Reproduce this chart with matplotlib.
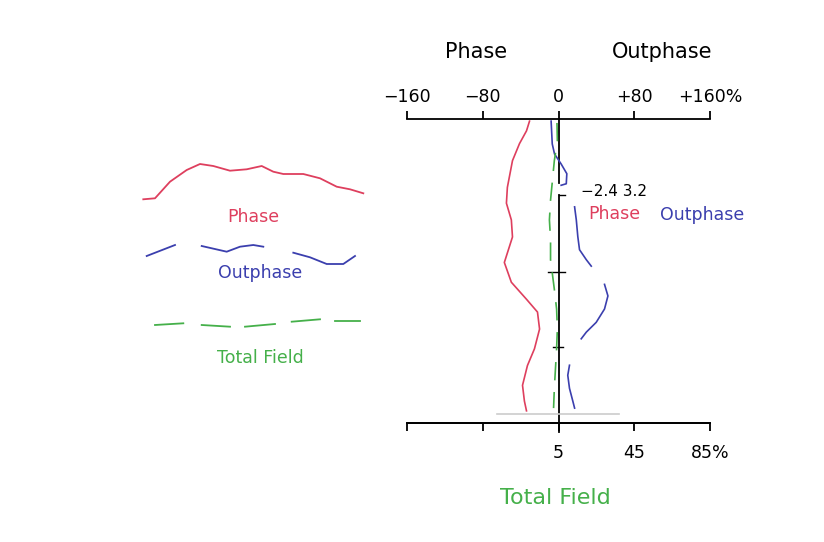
import numpy as np
import matplotlib
matplotlib.use("Agg")
import matplotlib.pyplot as plt

plt.rcParams['font.family'] = ['DejaVu Sans']

RED = '#de3f5e'
BLUE = '#3b3fae'
GREEN = '#45b04a'

# profile data: depth (0 top .. 100 bottom), values in percent
phase_depth = [0.7, 3.9, 8.1, 13.7, 22.5, 27.7, 33.2, 38.8, 47.2, 53.7, 59.3, 63.5, 69.1, 75.6, 81.1, 87.6, 92.8, 96.0]
phase_pct = [-30.6, -33.8, -41.2, -48.6, -54.0, -55.0, -49.8, -48.6, -57.2, -49.8, -33.8, -22.2, -20.0, -25.4, -32.8, -38.0, -36.0, -33.8]

outphase_segs = [
    ([0.7, 8.2, 11.5, 14.8, 18.0, 21.3, 21.8], [-7.8, -6.6, -4.2, 2.8, 8.8, 8.2, 2.8]),
    ([28.9, 33.2, 38.7, 43.0, 46.3, 48.4], [17.0, 18.8, 20.4, 22.2, 29.4, 34.6]),
    ([54.4, 58.2, 62.5, 66.9, 70.1, 72.3], [48.6, 52.2, 48.6, 39.8, 29.4, 24.0]),
    ([81.0, 84.3, 88.6, 92.9, 95.1], [11.6, 9.8, 11.6, 15.2, 17.0]),
]

tf_depth = [1.3, 7.2, 13.7, 20.2, 26.7, 33.2, 39.7, 46.3, 51.1, 56.0, 62.5, 69.1, 75.6, 82.1, 88.6, 95.1]
tf_val = [4.2, 4.4, 2.8, 1.8, 0.8, 0.2, 0.8, 0.8, 1.8, 2.8, 4.0, 4.4, 4.0, 3.4, 2.8, 2.4]

top_ticks = [-160, -80, 0, 80, 160]
top_labels = ['\u2212160', '\u221280', '0', '+80', '+160%']
tf_ticks = [-75, -35, 5, 45, 85]
tf_labels = ['', '', '5', '45', '85%']

# legend sample shapes (legend box units)
leg_red_x = [13.3, 25, 40, 56.7, 70, 83.3, 100, 116.7, 131.7, 143.3, 153.3, 173.3, 190, 206.7, 220, 233.3]
leg_red_y = [49.3, 48.3, 31.7, 20, 14, 16, 20.7, 19.3, 16, 21.7, 24, 24, 28.3, 36.7, 39.3, 43.3]
leg_blue = [
    ([16.7, 45], [106, 95]),
    ([71.7, 96.7, 110, 123.3, 133.3], [96, 101.7, 96.7, 95, 96.7]),
    ([163.3, 180, 196.7, 213.3, 225], [102.7, 107.3, 114, 114, 106]),
]
leg_green_x = [25, 53.3, 71.7, 100, 115, 145, 161.7, 190, 205, 230]
leg_green_y = [175, 173.3, 175, 176.7, 176.7, 174, 171.7, 169.3, 170.7, 170.7]


def tf_to_pct(t):
    return (np.asarray(t) - 5) * 2


def pct_to_tf(p):
    return np.asarray(p) / 2 + 5


W, H = 824, 542
fig = plt.figure(figsize=(W / 100, H / 100), dpi=100)

ax = fig.add_axes([407 / W, (H - 423) / H, 303 / W, 304 / H])
ax.set_xlim(-160, 160)
ax.set_ylim(100, 0)
for s in ['left', 'right']:
    ax.spines[s].set_visible(False)
for s in ['top', 'bottom']:
    ax.spines[s].set_linewidth(1.3)
ax.set_yticks([])
ax.xaxis.set_ticks_position('top')
ax.set_xticks(top_ticks)
ax.set_xticklabels(top_labels, fontsize=12.5)
ax.tick_params(axis='x', direction='out', length=6, width=1.3, pad=3)

sec = ax.secondary_xaxis('bottom', functions=(pct_to_tf, tf_to_pct))
sec.set_xticks(tf_ticks)
sec.set_xticklabels(tf_labels, fontsize=12.5)
sec.tick_params(direction='out', length=6, width=1.3, pad=9)
sec.spines['bottom'].set_linewidth(1.3)

# centre line with small crosses
ax.plot([0, 0], [0, 21], color='black', lw=1.3, clip_on=False)
ax.plot([0, 0], [25, 103], color='black', lw=1.3, clip_on=False)
ax.plot([0, 7], [25, 25], color='black', lw=1.0)
ax.plot([-11.6, 6.4], [50.3, 50.3], color='black', lw=1.0)
ax.plot([-6, 5], [75, 75], color='black', lw=1.0)
ax.plot([-65, 64], [97, 97], color='#cccccc', lw=1.2)

ax.plot(phase_pct, phase_depth, color=RED, lw=1.2)
for d, p in outphase_segs:
    ax.plot(p, d, color=BLUE, lw=1.2)
ax.plot(tf_to_pct(tf_val), tf_depth, color=GREEN, lw=1.2, dashes=(11, 7))

ax.text(59, 24, '\u22122.4 3.2', fontsize=11, ha='center', va='center', color='black')
ax.text(59, 31.3, 'Phase', fontsize=12.5, ha='center', va='center', color=RED)
ax.text(152, 31.6, 'Outphase', fontsize=12.5, ha='center', va='center', color=BLUE)

fig.text(476 / W, 1 - 52 / H, 'Phase', fontsize=15, ha='center', va='center')
fig.text(662 / W, 1 - 52 / H, 'Outphase', fontsize=15, ha='center', va='center')
fig.text(555 / W, 1 - 498 / H, 'Total Field', fontsize=16, ha='center', va='center', color=GREEN)

# legend on the left
lg = fig.add_axes([130 / W, (H - 380) / H, 250 / W, 230 / H])
lg.set_xlim(0, 250)
lg.set_ylim(230, 0)
lg.axis('off')
lg.plot(leg_red_x, leg_red_y, color=RED, lw=1.3)
for x, y in leg_blue:
    lg.plot(x, y, color=BLUE, lw=1.3)
for i in range(0, len(leg_green_x), 2):
    lg.plot(leg_green_x[i:i + 2], leg_green_y[i:i + 2], color=GREEN, lw=1.3)
lg.text(123, 67, 'Phase', fontsize=12.5, ha='center', va='center', color=RED)
lg.text(130, 123, 'Outphase', fontsize=12.5, ha='center', va='center', color=BLUE)
lg.text(130, 208, 'Total Field', fontsize=12.5, ha='center', va='center', color=GREEN)

fig.savefig('out.png', dpi=100)
